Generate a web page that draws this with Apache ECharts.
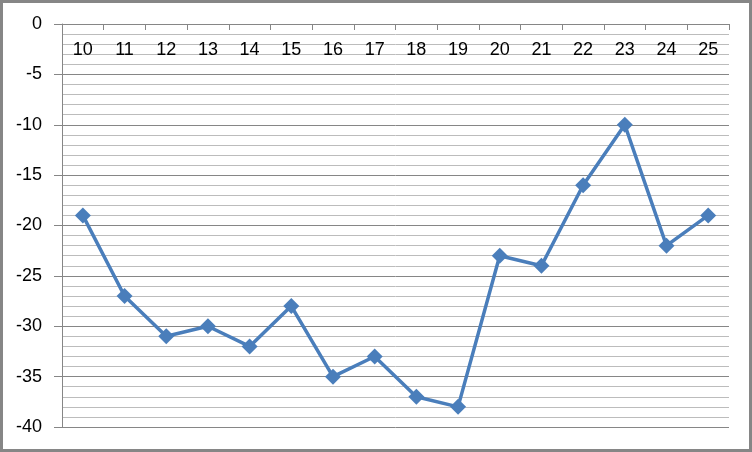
<!DOCTYPE html>
<html><head><meta charset="utf-8">
<script src="https://cdn.jsdelivr.net/npm/echarts@6/dist/echarts.min.js"></script>
<style>
html,body{margin:0;padding:0;background:#fff;}
#c{position:absolute;left:0;top:0;width:752px;height:452px;}
#frame{position:absolute;left:0;top:0;width:752px;height:452px;box-sizing:border-box;border:3px solid #868686;pointer-events:none;}
</style></head>
<body>
<div id="c"></div><div id="frame"></div>
<script>
const categories = ['10','11','12','13','14','15','16','17','18','19','20','21','22','23','24','25'];
const values = [-19,-27,-31,-30,-32,-28,-35,-33,-37,-38,-23,-24,-16,-10,-22,-19];
const yMin = -40, yMax = 0, yStep = 5;

const chart = echarts.init(document.getElementById('c'), null, {renderer:'canvas'});
const font = 'Liberation Sans';
chart.setOption({
  animation:false,
  grid:{left:62, top:24, right:23, bottom:25, containLabel:false},
  xAxis:{
    type:'category', data:categories, position:'top', boundaryGap:true,
    axisLine:{show:true, onZero:false, lineStyle:{color:'#868686', width:1}},
    axisTick:{show:true, inside:true, length:6, alignWithLabel:false, lineStyle:{color:'#868686'}},
    axisLabel:{inside:true, margin:17, color:'#000', fontSize:18, fontFamily:font},
    splitLine:{show:false}
  },
  yAxis:{
    type:'value', min:yMin, max:yMax, interval:yStep,
    axisLine:{show:true, lineStyle:{color:'#868686'}},
    axisTick:{show:true, length:8, lineStyle:{color:'#868686'}},
    axisLabel:{margin:20, color:'#000', fontSize:18, fontFamily:font},
    splitLine:{show:true, lineStyle:{color:'#868686', width:1}},
    minorTick:{show:false, splitNumber:5},
    minorSplitLine:{show:true, lineStyle:{color:'#bcbcbc', width:1}}
  },
  series:[{
    type:'line', data:values,
    lineStyle:{color:'#4a7ebb', width:3.5},
    itemStyle:{color:'#4a7ebb'},
    symbol:'diamond', symbolSize:16, showAllSymbol:true
  }]
});
</script>
</body></html>
